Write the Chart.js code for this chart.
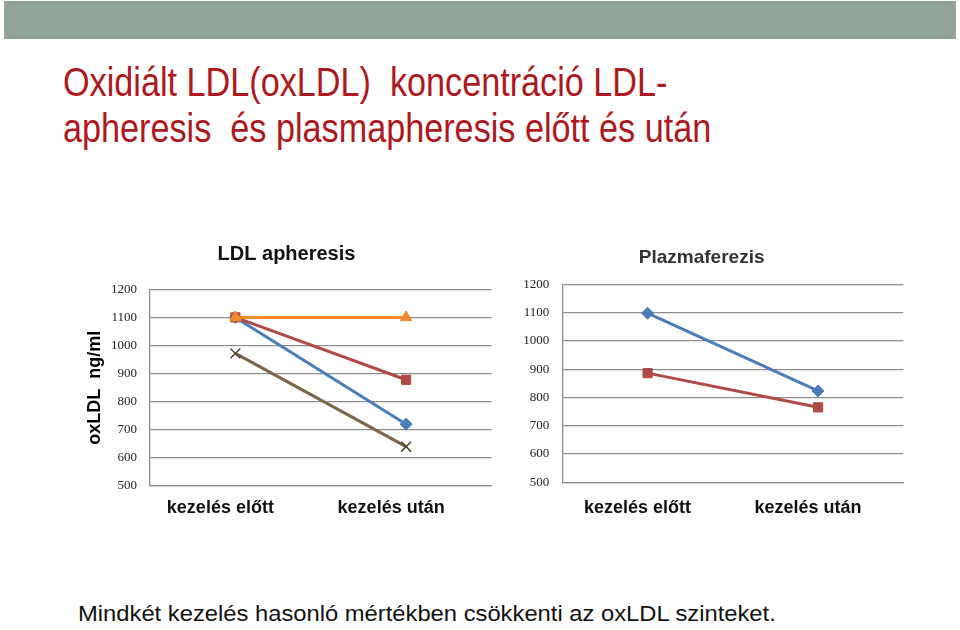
<!DOCTYPE html>
<html>
<head>
<meta charset="utf-8">
<script src="https://cdn.jsdelivr.net/npm/chart.js@4/dist/chart.umd.min.js"></script>
<style>
    html, body { margin: 0; padding: 0; background: #fff; }
    body { width: 960px; height: 630px; position: relative; overflow: hidden; font-family: 'Liberation Sans', Arial, sans-serif; }
    #bar { position: absolute; left: 4px; top: 1px; width: 952px; height: 38px; background: #94a397; }
    .title { position: absolute; left: 63px; color: #ae1820; font-size: 40px; line-height: 40px; white-space: nowrap; transform: scaleX(0.855); transform-origin: left top; }
    #caption { position: absolute; left: 78px; top: 602px; font-size: 22px; line-height: 24px; color: #111; white-space: nowrap; transform: scaleX(1.08); transform-origin: left top; }
    .box { position: absolute; top: 230px; width: 420px; height: 300px; }
</style>
</head>
<body>
<div id="bar"></div>
<div class="title" style="top:62px">Oxidiált LDL(oxLDL)&nbsp; koncentráció LDL-</div>
<div class="title" style="top:108px">apheresis&nbsp; és plasmapheresis előtt és után</div>
<div class="box" style="left:80px"><canvas id="ldl" width="420" height="300"></canvas></div>
<div class="box" style="left:500px"><canvas id="plazma" width="420" height="300"></canvas></div>
<div id="caption">Mindkét kezelés hasonló mértékben csökkenti az oxLDL szinteket.</div>
<script>
const categories = ['kezelés előtt', 'kezelés után'];
const yMin = 500;
const yMax = 1200;
const yStep = 100;

// LDL apheresis
const ldlBlue = [1100, 720];
const ldlRed = [1100, 878];
const ldlOrange = [1100, 1100];
const ldlBrown = [972, 640];

// Plazmaferezis
const plazmaBlue = [1098, 823];
const plazmaRed = [886, 765];

const BLUE = '#4a7ebb';
const RED = '#b04a47';
const ORANGE = '#ef8b2c';
const BROWN = '#7a6748';
const GRID = '#8e8e8e';

function serie(data, color, style, radius, order, pointColor) {
    return {
        data: data,
        borderColor: color,
        backgroundColor: pointColor || color,
        pointBorderColor: pointColor || color,
        borderWidth: 3,
        pointStyle: style,
        pointRadius: radius,
        pointBorderWidth: style === 'crossRot' ? 1.5 : 1,
        order: order,
        tension: 0
    };
}

function makeChart(id, datasets, cfg) {
    const ctx = document.getElementById(id).getContext('2d');
    return new Chart(ctx, {
        type: 'line',
        data: { labels: categories, datasets: datasets },
        options: {
            responsive: false,
            animation: false,
            layout: { padding: { left: 0, right: cfg.padRight, top: 0, bottom: 0 } },
            plugins: {
                legend: { display: false },
                tooltip: { enabled: false },
                title: {
                    display: true,
                    text: cfg.title,
                    color: cfg.titleColor,
                    font: { family: "'Liberation Sans', Arial", size: cfg.titleSize, weight: 'bold', lineHeight: 1.2 },
                    padding: { top: cfg.titleTop, bottom: cfg.titleBottom }
                }
            },
            scales: {
                x: {
                    offset: true,
                    grid: { display: false, drawTicks: false },
                    border: { display: true, color: GRID, width: 1.3 },
                    ticks: {
                        color: '#111',
                        padding: cfg.xPad,
                        labelOffset: cfg.labelOffset,
                        maxRotation: 0,
                        font: { family: "'Liberation Sans', Arial", size: 18, weight: 'bold', lineHeight: 1.2 }
                    },
                    afterFit: function (scale) { scale.height = cfg.xHeight; }
                },
                y: {
                    min: yMin,
                    max: yMax,
                    grid: { color: GRID, lineWidth: 1.3, drawTicks: false },
                    border: { display: true, color: GRID, width: 1.3 },
                    ticks: {
                        stepSize: yStep,
                        padding: 13,
                        color: '#222',
                        font: { family: "'Liberation Serif', 'Times New Roman', serif", size: 13 },
                        callback: function (value) { return String(value); }
                    },
                    title: {
                        display: cfg.yTitle !== '',
                        text: cfg.yTitle,
                        color: '#000',
                        padding: { top: 4, bottom: 0 },
                        font: { family: "'Liberation Sans', Arial", size: 18, weight: 'bold', lineHeight: 1.2 }
                    },
                    afterFit: function (scale) { scale.width = cfg.yWidth; }
                }
            }
        }
    });
}

makeChart('ldl', [
    serie(ldlBlue, BLUE, 'rectRot', 6, 2),
    serie(ldlRed, RED, 'rect', 6.5, 1),
    serie(ldlOrange, ORANGE, 'triangle', 6.5, 0),
    serie(ldlBrown, BROWN, 'crossRot', 7, 3, '#4e4233')
], {
    title: 'LDL apheresis', titleColor: '#111', titleSize: 20,
    titleTop: 12, titleBottom: 23.3,
    padRight: 7, yWidth: 70, xHeight: 44, xPad: 11.2, labelOffset: -15,
    yTitle: 'oxLDL  ng/ml'
});

makeChart('plazma', [
    serie(plazmaBlue, BLUE, 'rectRot', 6, 0),
    serie(plazmaRed, RED, 'rect', 6.5, 1)
], {
    title: 'Plazmaferezis', titleColor: '#333', titleSize: 19,
    titleTop: 16.6, titleBottom: 14.9,
    padRight: 16.7, yWidth: 62.3, xHeight: 47.7, xPad: 14.9, labelOffset: -10,
    yTitle: ''
});
</script>
</body>
</html>
